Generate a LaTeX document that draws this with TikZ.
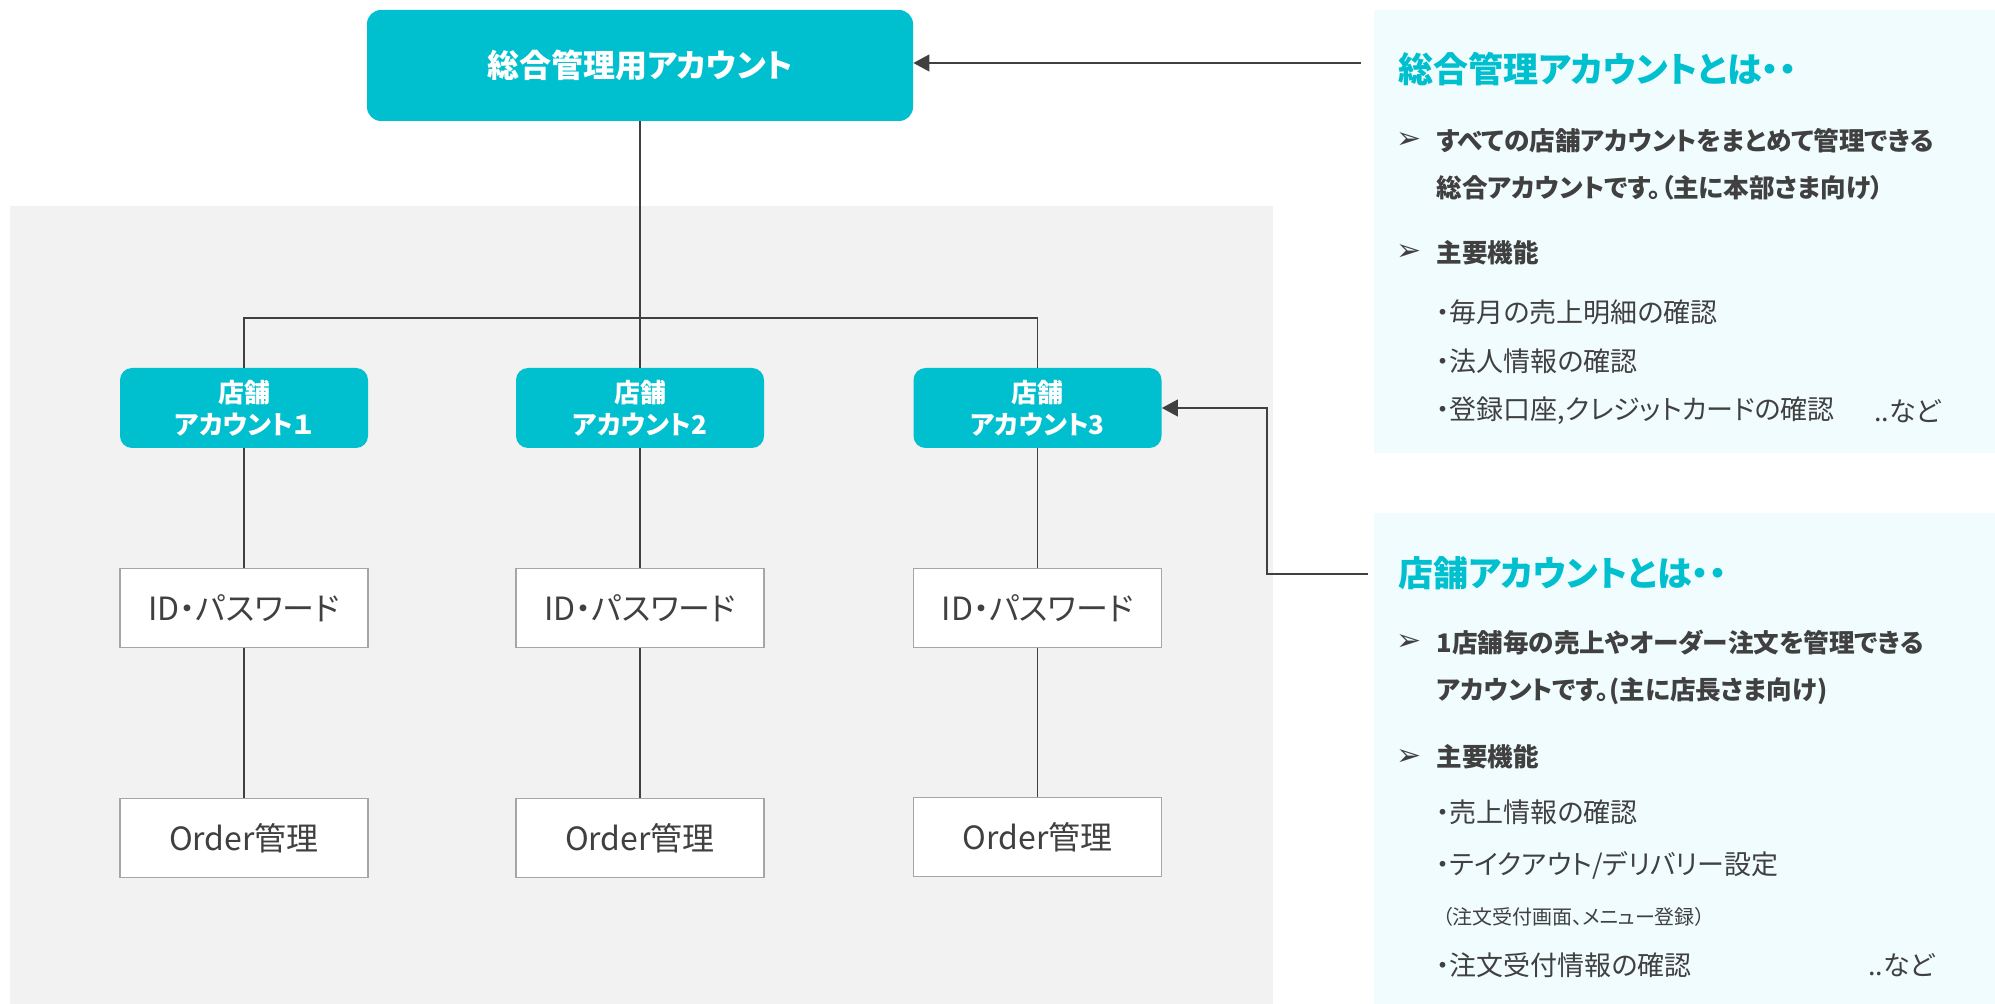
\documentclass[tikz,border=0pt]{standalone}
\usepackage{fontspec}
\setmainfont[RawFeature=+palt]{Noto Sans CJK JP}
\newfontfamily\symfont{DejaVu Sans}
\usepackage{tikz}
\usetikzlibrary{arrows.meta}
\definecolor{boxcyan}{RGB}{0,191,207}
\definecolor{bggray}{RGB}{242,242,242}
\definecolor{notebg}{RGB}{240,252,254}
\definecolor{linegray}{RGB}{64,64,64}
\definecolor{textgray}{RGB}{64,64,64}
\definecolor{edgegray}{RGB}{166,166,166}
\tikzset{
  topbox/.style={fill=boxcyan, rounded corners=7pt, minimum width=273pt, minimum height=55.5pt, text=white, font=\bfseries\fontsize{16}{19}\selectfont},
  shopbox/.style={fill=boxcyan, rounded corners=6pt, minimum width=124pt, minimum height=40pt, text=white, align=center, font=\bfseries\fontsize{13}{16}\selectfont},
  itembox/.style={fill=white, draw=edgegray, line width=0.7pt, minimum width=124pt, minimum height=39.5pt, text=textgray, font=\fontsize{16}{19}\selectfont},
  conn/.style={draw=linegray, line width=0.6pt},
  arr/.style={conn, -{Triangle[length=8pt,width=8.5pt]}},
  ntitle/.style={anchor=west, inner sep=0pt, text=boxcyan, font=\bfseries\fontsize{17.5}{20}\selectfont},
  nbold/.style={anchor=west, inner sep=0pt, text=textgray, font=\bfseries\fontsize{12.8}{15}\selectfont},
  nmark/.style={inner sep=0pt, text=textgray, font=\symfont\fontsize{15}{17}\selectfont},
  nitem/.style={anchor=west, inner sep=0pt, text=textgray, font=\fontsize{13.5}{16}\selectfont},
  nsmall/.style={anchor=west, inner sep=0pt, text=textgray, font=\fontsize{10}{12}\selectfont}
}

\begin{document}
\begin{tikzpicture}[x=0.5pt, y=-0.5pt]
		%%%%% START %%%%%
		\useasboundingbox (0, 0) rectangle (1995, 1004);
		\fill[bggray] (10, 206) rectangle (1273, 1004);
		\fill[notebg] (1374, 10) rectangle (1995, 453);
		\fill[notebg] (1374, 513) rectangle (1995, 1004);
		
		\node[topbox] (top) at (640, 65.5) {総合管理用アカウント};
		
		\node[shopbox] (shop1) at (244, 408) {店舗\\アカウント１};
		\node[shopbox] (shop2) at (640, 408) {店舗\\アカウント2};
		\node[shopbox] (shop3) at (1037.5, 408) {店舗\\アカウント3};
		
		\node[itembox] (id1) at (244, 608) {ID・パスワード};
		\node[itembox] (id2) at (640, 608) {ID・パスワード};
		\node[itembox] (id3) at (1037.5, 608) {ID・パスワード};
		
		\node[itembox] (ord1) at (244, 838) {Order管理};
		\node[itembox] (ord2) at (640, 838) {Order管理};
		\node[itembox] (ord3) at (1037.5, 837) {Order管理};
		
		\coordinate (bus) at (640, 318);
		\draw[conn] (top.south) -- (shop2.north);
		\draw[conn] (shop1.north) |- (bus) -| (shop3.north);
		\foreach \i in {1,2,3} {
			\draw[conn] (shop\i.south) -- (id\i.north);
			\draw[conn] (id\i.south) -- (ord\i.north);
		}
		
		\coordinate (note1) at (1361, 63);
		\draw[arr] (note1) -- (note1 -| top.east);
		\coordinate (note2) at (1368, 574);
		\coordinate (bend) at (1267, 574);
		\draw[arr] (note2) -- (bend) |- (shop3.east);
		
		% first note
		\node[ntitle] (ttl1) at (1398, 69) {総合管理アカウントとは・・};
		\node[nmark] (mk1a) at (1409, 141) {➢};
		\node[nbold] (b1a) at (1436, 141) {すべての店舗アカウントをまとめて管理できる};
		\node[nbold] (b1b) at (1436, 188) {総合アカウントです。（主に本部さま向け）};
		\node[nmark] (mk1b) at (1409, 253) {➢};
		\node[nbold] (b1c) at (1436, 253) {主要機能};
		\node[nitem] (i1a) at (1436, 312) {・毎月の売上明細の確認};
		\node[nitem] (i1b) at (1436, 361) {・法人情報の確認};
		\node[nitem] (i1c) at (1436, 411) {・登録口座,クレジットカードの確認};
		\node[nitem] (etc1) at (1874, 411) {..など};
		
		% second note
		\node[ntitle] (ttl2) at (1398, 573) {店舗アカウントとは・・};
		\node[nmark] (mk2a) at (1409, 643) {➢};
		\node[nbold] (b2a) at (1436, 643) {1店舗毎の売上やオーダー注文を管理できる};
		\node[nbold] (b2b) at (1436, 691) {アカウントです。(主に店長さま向け)};
		\node[nmark] (mk2b) at (1409, 757) {➢};
		\node[nbold] (b2c) at (1436, 757) {主要機能};
		\node[nitem] (i2a) at (1436, 812) {・売上情報の確認};
		\node[nitem] (i2b) at (1436, 865) {・テイクアウト/デリバリー設定};
		\node[nsmall] (i2c) at (1442, 917) {（注文受付画面、メニュー登録）};
		\node[nitem] (i2d) at (1436, 965) {・注文受付情報の確認};
		\node[nitem] (etc2) at (1868, 965) {..など};
		%%%%% END %%%%%
\end{tikzpicture}
\end{document}
